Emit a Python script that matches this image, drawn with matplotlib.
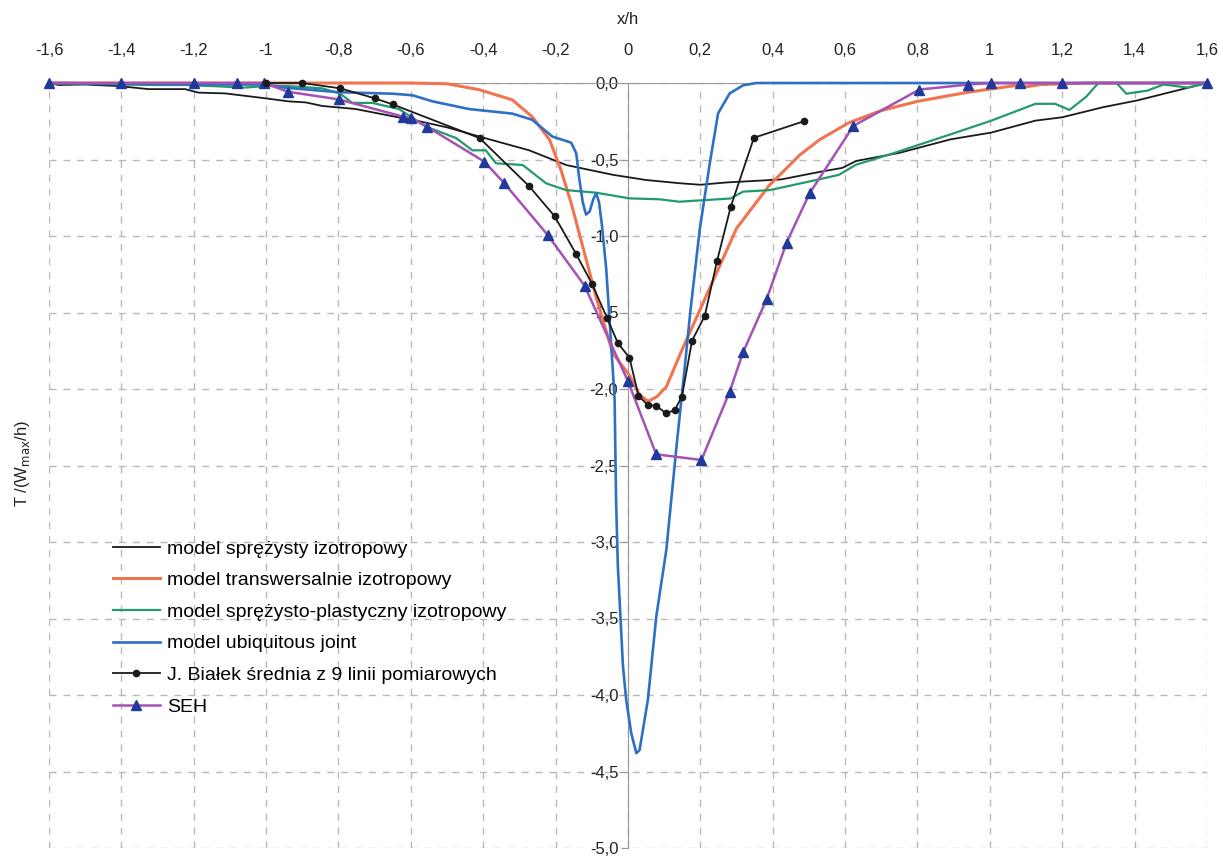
import matplotlib
matplotlib.use("Agg")
import matplotlib.pyplot as plt
import numpy as np

plt.rcParams['font.family'] = ['Liberation Sans', 'DejaVu Sans']

# model sprężysty izotropowy
spr_x = [-1.6, -1.574, -1.50, -1.408, -1.325, -1.224, -1.187, -1.113, -1.002, -0.938, -0.89, -0.845,
         -0.753, -0.633, -0.596, -0.50, -0.411, -0.273, -0.171, -0.042, 0.05, 0.142, 0.20, 0.272,
         0.35, 0.424, 0.536, 0.592, 0.63, 0.751, 0.892, 1.004, 1.126, 1.20, 1.313, 1.407, 1.50, 1.60]
spr_T = [0, -0.013, -0.01, -0.02, -0.04, -0.04, -0.063, -0.068, -0.10, -0.12, -0.127, -0.15,
         -0.17, -0.225, -0.24, -0.29, -0.35, -0.44, -0.536, -0.60, -0.634, -0.655, -0.665, -0.65,
         -0.64, -0.63, -0.578, -0.555, -0.51, -0.456, -0.368, -0.324, -0.246, -0.224, -0.158, -0.114, -0.059, 0]

# model transwersalnie izotropowy
tr_x = [-1.6, -0.8, -0.6, -0.5, -0.411, -0.32, -0.265, -0.217, -0.185, -0.157, -0.125, -0.088, -0.042,
        0.004, 0.032, 0.056, 0.080, 0.106, 0.15, 0.207, 0.244, 0.30, 0.39, 0.475, 0.53, 0.61, 0.70,
        0.80, 0.94, 1.0, 1.08, 1.10, 1.14, 1.27, 1.6]
tr_T = [0, 0, 0, -0.005, -0.044, -0.11, -0.22, -0.37, -0.57, -0.785, -1.07, -1.40, -1.767,
        -1.91, -2.04, -2.08, -2.05, -1.985, -1.74, -1.44, -1.245, -0.95, -0.67, -0.47, -0.37, -0.26, -0.18,
        -0.12, -0.06, -0.04, -0.014, -0.025, -0.01, 0, 0]

# model sprężysto-plastyczny izotropowy
gr_x = [-1.6, -1.325, -1.224, -1.15, -1.06, -1.0, -0.94, -0.845, -0.795, -0.762, -0.707, -0.633,
        -0.558, -0.475, -0.43, -0.393, -0.365, -0.291, -0.226, -0.171, -0.088, 0.004, 0.087, 0.142,
        0.18, 0.283, 0.318, 0.392, 0.52, 0.583, 0.63, 0.723, 0.892, 1.004, 1.126, 1.18, 1.22, 1.266,
        1.30, 1.35, 1.377, 1.435, 1.48, 1.547, 1.6]
gr_T = [0, -0.013, -0.013, -0.02, -0.03, -0.02, -0.02, -0.035, -0.07, -0.13, -0.13, -0.17,
        -0.285, -0.36, -0.44, -0.44, -0.525, -0.536, -0.656, -0.70, -0.717, -0.754, -0.76, -0.776,
        -0.77, -0.755, -0.71, -0.70, -0.634, -0.60, -0.534, -0.467, -0.335, -0.246, -0.136, -0.136, -0.176, -0.09,
        0, 0, -0.07, -0.05, -0.01, -0.03, 0]

# model ubiquitous joint
ub_x = [-1.6, -1.2, -1.0, -0.95, -0.80, -0.65, -0.596, -0.54, -0.44, -0.32, -0.265, -0.209, -0.157,
        -0.143, -0.135, -0.125, -0.116, -0.106, -0.096, -0.088, -0.080, -0.072, -0.06, -0.051, -0.042,
        -0.037, -0.033, -0.028, -0.014, -0.005, 0.009, 0.023, 0.032, 0.055, 0.078, 0.106, 0.133, 0.157,
        0.172, 0.198, 0.226, 0.249, 0.281, 0.318, 0.355, 1.6]
ub_T = [0, -0.01, -0.01, -0.03, -0.06, -0.07, -0.08, -0.12, -0.17, -0.20, -0.24, -0.35, -0.39,
        -0.46, -0.62, -0.78, -0.86, -0.84, -0.76, -0.72, -0.78, -0.93, -1.22, -1.55, -1.875,
        -2.07, -2.72, -3.16, -3.81, -4.03, -4.25, -4.38, -4.36, -4.03, -3.49, -3.05, -2.40, -1.853,
        -1.50, -0.96, -0.525, -0.198, -0.068, -0.015, 0, 0]

# J. Białek - pomiary
jb_x = [-1.0, -0.9, -0.795, -0.70, -0.65, -0.41, -0.273, -0.203, -0.144, -0.099, -0.058, -0.028, 0.004,
        0.029, 0.055, 0.078, 0.106, 0.129, 0.149, 0.177, 0.212, 0.246, 0.284, 0.348, 0.486]
jb_T = [0, 0, -0.035, -0.10, -0.14, -0.36, -0.675, -0.87, -1.115, -1.315, -1.535, -1.70, -1.795,
        -2.045, -2.105, -2.11, -2.16, -2.137, -2.05, -1.684, -1.523, -1.164, -0.808, -0.358, -0.25]

# SEH
seh_x = [-1.6, -1.4, -1.2, -1.08, -1.005, -0.94, -0.80, -0.621, -0.599, -0.556, -0.397, -0.342, -0.222,
         -0.12, 0.0, 0.078, 0.203, 0.281, 0.318, 0.383, 0.438, 0.502, 0.623, 0.805, 0.94, 1.004, 1.084,
         1.20, 1.60]
seh_T = [0, 0, 0, 0, 0, -0.057, -0.107, -0.22, -0.23, -0.285, -0.514, -0.655, -0.993,
         -1.325, -1.95, -2.427, -2.464, -2.017, -1.76, -1.414, -1.044, -0.72, -0.28, -0.043, -0.01, 0, 0,
         0, 0]

x_ticks = np.arange(-1.6, 1.601, 0.2)
x_labels = ['-1,6', '-1,4', '-1,2', '-1', '-0,8', '-0,6', '-0,4', '-0,2', '0',
            '0,2', '0,4', '0,6', '0,8', '1', '1,2', '1,4', '1,6']
y_ticks = np.arange(0, -5.01, -0.5)
y_labels = ['0,0', '-0,5', '-1,0', '-1,5', '-2,0', '-2,5', '-3,0', '-3,5', '-4,0', '-4,5', '-5,0']

fig = plt.figure(figsize=(12.23, 8.61), dpi=100)
ax = fig.add_axes([49 / 1223, 1 - 848 / 861, (1207 - 49) / 1223, (848 - 83) / 861])

ax.set_xlim(-1.6, 1.6)
ax.set_ylim(-5, 0)

ax.plot(spr_x, spr_T, color='#1a1a1a', lw=1.3, label='model sprężysty izotropowy', clip_on=False, zorder=3)
ax.plot(tr_x, tr_T, color='#f2734f', lw=2.2, label='model transwersalnie izotropowy', clip_on=False, zorder=3)
ax.plot(gr_x, gr_T, color='#239a6a', lw=1.6, label='model sprężysto-plastyczny izotropowy', clip_on=False, zorder=3)
ax.plot(ub_x, ub_T, color='#2f6fc4', lw=1.9, label='model ubiquitous joint', clip_on=False, zorder=4)
ax.plot(jb_x, jb_T, color='#1a1a1a', lw=1.3, marker='o', ms=4.5, label='J. Białek średnia z 9 linii pomiarowych',
        clip_on=False, zorder=5)
ax.plot(seh_x, seh_T, color='#a552b5', lw=1.8, marker='^', ms=6.5, mfc='#1f3a9a', mec='#1f3a9a',
        label='SEH', clip_on=False, zorder=4)

# axes: x on top (y=0), y axis through x=0
for s in ['right', 'bottom']:
    ax.spines[s].set_visible(False)
ax.spines['left'].set_position(('data', 0))
ax.spines['left'].set_color('#999999')
ax.spines['top'].set_color('#999999')
ax.spines['left'].set_zorder(2)

ax.xaxis.tick_top()
ax.set_xticks(x_ticks)
ax.set_xticklabels(x_labels)
ax.tick_params(axis='x', length=0, pad=18, labelsize=12, colors='#222222')
ax.set_yticks(y_ticks)
ax.set_yticklabels(y_labels)
ax.tick_params(axis='y', direction='out', length=5, pad=2, labelsize=12, colors='#999999', labelcolor='#222222')

ax.xaxis.set_label_position('top')
ax.set_xlabel('x/h', fontsize=12, labelpad=14, color='#222222')

ax.grid(True, color='#b8b8b8', lw=1, ls=(0, (5, 5)), zorder=0)
ax.set_axisbelow(True)

fig.text(23 / 1223, 1 - 463 / 861, r'T /(W$_{\mathrm{max}}$/h)', rotation=90, ha='center', va='center',
         fontsize=12, color='#222222')

ax.legend(loc='upper left', bbox_to_anchor=(113 / 1223, 1 - 540 / 861), bbox_transform=fig.transFigure,
          frameon=False, fontsize=14, handlelength=2.4, handletextpad=0.4, labelspacing=0.72,
          borderpad=0, borderaxespad=0)

fig.savefig('out.png', dpi=100)
